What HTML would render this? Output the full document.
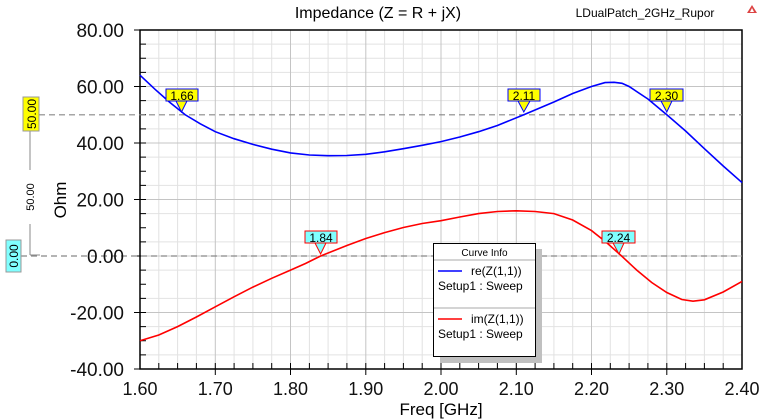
<!DOCTYPE html>
<html><head><style>body{margin:0;background:#fff}svg{display:block;font-family:"Liberation Sans",sans-serif}</style></head>
<body>
<svg width="768" height="420" viewBox="0 0 768 420" xmlns="http://www.w3.org/2000/svg">
<g stroke="#e2e2e2" stroke-width="1">
<path d="M158.8 30V369M177.6 30V369M196.4 30V369M234.1 30V369M252.9 30V369M271.7 30V369M309.4 30V369M328.1 30V369M346.9 30V369M384.6 30V369M403.4 30V369M422.2 30V369M459.8 30V369M478.6 30V369M497.4 30V369M535.1 30V369M553.9 30V369M572.7 30V369M610.3 30V369M629.1 30V369M647.9 30V369M685.6 30V369M704.4 30V369M723.2 30V369"/>
<path d="M140 44.1H742M140 58.3H742M140 72.4H742M140 100.6H742M140 128.9H742M140 157.1H742M140 185.4H742M140 213.6H742M140 241.9H742M140 270.1H742M140 298.4H742M140 326.6H742M140 354.9H742"/>
</g>
<g stroke="#c4c4c4" stroke-width="1">
<path d="M215.3 30V369M290.5 30V369M365.8 30V369M441 30V369M516.3 30V369M591.5 30V369M666.8 30V369"/>
<path d="M140 86.5H742M140 143H742M140 199.5H742M140 256H742M140 312.5H742"/>
</g>
<rect x="140" y="30" width="602" height="339" fill="none" stroke="#000" stroke-width="1.5"/>
<g stroke="#000" stroke-width="1">
<path d="M134 30H146M134 86.5H146M134 143H146M134 199.5H146M134 256H146M134 312.5H146M134 369H146"/>
<path d="M140 44.1H146M140 58.3H146M140 72.4H146M140 100.6H146M140 114.8H146M140 128.9H146M140 157.1H146M140 171.3H146M140 185.4H146M140 213.6H146M140 227.8H146M140 241.9H146M140 270.1H146M140 284.3H146M140 298.4H146M140 326.6H146M140 340.8H146M140 354.9H146"/>
<path d="M215.3 363V375M290.5 363V375M365.8 363V375M441 363V375M516.3 363V375M591.5 363V375M666.8 363V375"/>
<path d="M158.8 363V369M177.6 363V369M196.4 363V369M234.1 363V369M252.9 363V369M271.7 363V369M309.4 363V369M328.1 363V369M346.9 363V369M384.6 363V369M403.4 363V369M422.2 363V369M459.8 363V369M478.6 363V369M497.4 363V369M535.1 363V369M553.9 363V369M572.7 363V369M610.3 363V369M629.1 363V369M647.9 363V369M685.6 363V369M704.4 363V369M723.2 363V369"/>
</g>
<g stroke="#888" stroke-width="1.2" stroke-dasharray="6,4" fill="none">
<path d="M39 114.8H742"/><path d="M21 256H742"/>
</g>
<path d="M30 131V255" stroke="#888" stroke-width="1"/>
<path d="M30 255H40" stroke="#888"/>
<rect x="24" y="170" width="12" height="54" fill="#fff"/>
<text transform="translate(34,197) rotate(-90)" font-size="11" text-anchor="middle">50.00</text>
<rect x="23" y="97" width="16" height="34" fill="#ffff00" stroke="#999"/>
<text transform="translate(36,114) rotate(-90)" font-size="12" text-anchor="middle">50.00</text>
<rect x="6" y="240" width="15" height="32" fill="#80ffff" stroke="#999"/>
<text transform="translate(18,256) rotate(-90)" font-size="12" text-anchor="middle">0.00</text>
<polyline fill="none" stroke="#0000ff" stroke-width="1.6" points="140,75.2 155.05,89.3 170.1,102.6 185.2,114.75 200.3,123.8 215.3,131.7 234,138.7 252.9,144.4 271.7,149.2 290.5,152.9 309.4,155 328.1,155.7 346.9,155.5 365.8,154.3 384.6,151.8 403.4,148.65 422.2,145.3 441,141.6 459.8,137 478.6,131.7 497.4,125.5 523.8,114.75 553.9,102 572.7,93.5 591.5,86.5 605,82.6 614.1,82.3 622,83.3 629.1,86.5 647.9,99 666.8,114.75 685.6,131 704.4,148.65 723.2,166 742,182.55"/>
<polyline fill="none" stroke="#ff0000" stroke-width="1.6" points="140,340.75 158.8,335 177.6,326.6 196.4,317 215.3,306.85 234,296.8 252.9,287.1 271.7,278.3 290.5,270.1 305.5,263.5 320.6,256 346.9,245.5 365.8,238.5 384.6,232.6 403.4,227.5 422.2,223.5 441,220.7 459.8,217 478.6,213.6 497.4,211.5 516.3,210.8 535.1,211.5 553.9,213.6 572.7,220 591.5,230.6 606.5,242.5 621.6,256 636.6,270 651.7,282.5 666.8,292.5 681.8,299.5 693,301.2 704.4,299.8 723.2,292 742,281.4"/>
<g font-size="12" text-anchor="middle">
<rect x="166" y="89" width="32" height="12" fill="#ffff00" stroke="#0000ff"/>
<path d="M176 101L181.5 112L187 101Z" fill="#ffff00" stroke="#0000ff"/>
<text x="182" y="100">1.66</text>
<rect x="508" y="89" width="32" height="12" fill="#ffff00" stroke="#0000ff"/>
<path d="M518 101L523.8 112L530 101Z" fill="#ffff00" stroke="#0000ff"/>
<text x="524" y="100">2.11</text>
<rect x="650" y="89" width="33" height="12" fill="#ffff00" stroke="#0000ff"/>
<path d="M661 101L666.8 112L672 101Z" fill="#ffff00" stroke="#0000ff"/>
<text x="666.5" y="100">2.30</text>
<rect x="305" y="231" width="32" height="12" fill="#80ffff" stroke="#ff0000"/>
<path d="M315 243L320.6 254L326 243Z" fill="#80ffff" stroke="#ff0000"/>
<text x="321" y="242">1.84</text>
<rect x="602" y="231" width="33" height="12" fill="#80ffff" stroke="#ff0000"/>
<path d="M613 243L619 254L624 243Z" fill="#80ffff" stroke="#ff0000"/>
<text x="618.5" y="242">2.24</text>
</g>
<rect x="440" y="249" width="102" height="114" fill="#c0c0c0"/>
<rect x="433.5" y="243.5" width="102" height="113" fill="#fff" stroke="#000"/>
<path d="M434 260H535M434 308H535" stroke="#aaa"/>
<text x="484.5" y="256" font-size="10" text-anchor="middle">Curve Info</text>
<path d="M438 271H462" stroke="#0000ff" stroke-width="1.5"/>
<text x="471" y="275" font-size="12">re(Z(1,1))</text>
<text x="438" y="290" font-size="12">Setup1 : Sweep</text>
<path d="M438 319H462" stroke="#ff0000" stroke-width="1.5"/>
<text x="471" y="323" font-size="12">im(Z(1,1))</text>
<text x="438" y="338" font-size="12">Setup1 : Sweep</text>
<g font-size="19" text-anchor="end" fill="#111">
<text x="124" y="37">80.00</text><text x="124" y="93.5">60.00</text><text x="124" y="150">40.00</text><text x="124" y="206.5">20.00</text><text x="124" y="263">0.00</text><text x="124" y="319.5">-20.00</text><text x="124" y="376">-40.00</text>
</g>
<g font-size="18" text-anchor="middle" fill="#111">
<text x="140" y="395">1.60</text><text x="215.3" y="395">1.70</text><text x="290.5" y="395">1.80</text><text x="365.8" y="395">1.90</text><text x="441" y="395">2.00</text><text x="516.3" y="395">2.10</text><text x="591.5" y="395">2.20</text><text x="666.8" y="395">2.30</text><text x="742" y="395">2.40</text>
</g>
<text x="441" y="415" font-size="17" text-anchor="middle">Freq [GHz]</text>
<text transform="translate(66,200) rotate(-90)" font-size="17" text-anchor="middle">Ohm</text>
<text x="378" y="18" font-size="16" text-anchor="middle">Impedance (Z = R + jX)</text>
<text x="645" y="17" font-size="12" text-anchor="middle">LDualPatch_2GHz_Rupor</text>
<path d="M752 5L747 13H757Z" fill="#d44" /><path d="M752 8L750 12H754Z" fill="#fff"/>
</svg>
</body></html>
